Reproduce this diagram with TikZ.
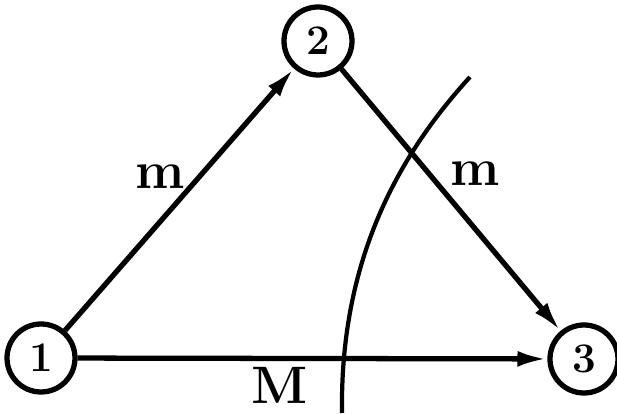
\documentclass[tikz,border=0pt]{standalone}
\usetikzlibrary{arrows.meta}

\begin{document}
\begin{tikzpicture}[>={Latex[length=17pt,width=9pt]}, line width=3pt]
    \useasboundingbox (0,0) rectangle (12.34,8.28);
    % vertices
    \tikzset{vtx/.style={draw, circle, minimum size=1.36cm, inner sep=0pt,
                         font=\fontsize{24}{26}\selectfont\bfseries}}
    \node[vtx] (v1) at (0.82,1.12) {1};
    \node[vtx] (v2) at (6.36,7.46) {2};
    \node[vtx] (v3) at (11.68,1.10) {3};

    % edges
    \draw[->] (v1) -- (v2);
    \draw[->] (v2) -- (v3);
    \draw[->] (v1) -- (v3);

    % capacities
    \tikzset{cap label/.style={font=\fontsize{30}{32}\selectfont\bfseries}}
    \node[cap label] (m12) at (3.2,4.74) {m};
    \node[cap label] (m23) at (9.5,4.80) {m};
    \node[cap label] (M13) at (5.6,0.58) {M};

    % cut
    \coordinate (ctop) at (9.4,6.74);
    \coordinate (cbot) at (6.84,0.02);
    \draw[line width=2.4pt] (ctop) .. controls (7.9,5.1) and (6.8,3.0) .. (cbot);
  \end{tikzpicture}
\end{document}
